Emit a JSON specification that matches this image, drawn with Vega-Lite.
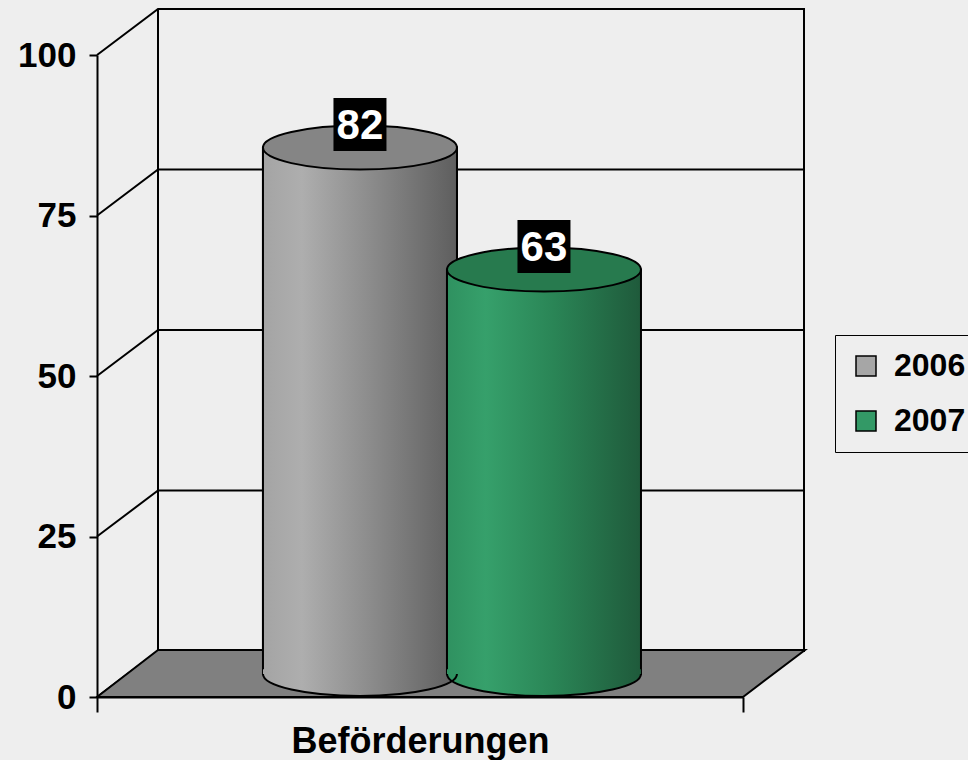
{
  "$schema": "https://vega.github.io/schema/vega-lite/v6.json",
  "width": 646,
  "height": 642,
  "autosize": {"type": "none"},
  "padding": {"left": 97, "top": 55, "right": 225, "bottom": 63},
  "background": "#EEEEEE",
  "config": {"view": {"stroke": null}, "font": "Liberation Sans"},
  "datasets": {
    "main": [
      {"cat": "Beförderungen", "year": "2006", "value": 82},
      {"cat": "Beförderungen", "year": "2007", "value": 63}
    ],
    "grid": [{"v": 0}, {"v": 25}, {"v": 50}, {"v": 75}, {"v": 100}]
  },
  "layer": [
    {
      "data": {"name": "grid"},
      "mark": {"type": "point", "shape": "M -0.9124 0 L -0.7401 -0.13 L 1.0876 -0.13", "size": 501264, "filled": false, "stroke": "black", "strokeWidth": 2, "opacity": 1},
      "encoding": {
        "y": {"field": "v", "type": "quantitative", "scale": {"domain": [0, 100], "nice": false, "zero": true},
          "axis": {"values": [0, 25, 50, 75, 100], "title": null, "grid": false, "domainColor": "black", "domainWidth": 2, "tickColor": "black", "tickWidth": 2, "tickSize": 8, "labelFontSize": 35, "labelFontWeight": "bold", "labelColor": "black", "labelPadding": 13}}
      }
    },
    {
      "data": {"name": "main"},
      "transform": [{"filter": "datum.year === '2006'"}],
      "mark": {"type": "bar", "size": 194, "yOffset": -23, "y2Offset": -23, "stroke": "black", "strokeWidth": 2,
        "fill": {"gradient": "linear", "x1": 0, "y1": 0, "x2": 1, "y2": 0, "stops": [{"offset": 0, "color": "#A4A4A4"}, {"offset": 0.2, "color": "#AEAEAE"}, {"offset": 0.55, "color": "#8C8C8C"}, {"offset": 1, "color": "#5E5E5E"}]}},
      "encoding": {
        "x": {"field": "cat", "type": "nominal", "scale": {"paddingInner": 0, "paddingOuter": 0},
          "axis": {"title": null, "bandPosition": 0.5, "tickBand": "extent", "domainColor": "black", "domainWidth": 2, "tickColor": "black", "tickWidth": 2, "tickSize": 15, "labelFontSize": 36, "labelFontWeight": "bold", "labelColor": "black", "labelPadding": 12, "labelAngle": 0, "labelLimit": 0}},
        "xOffset": {"field": "year", "type": "nominal", "scale": {"domain": ["2006", "2007"], "paddingInner": 0, "paddingOuter": 0.7554, "align": 0.615}},
        "y": {"field": "value", "type": "quantitative"}
      }
    },
    {
      "data": {"name": "main"},
      "transform": [{"filter": "datum.year === '2006'"}],
      "mark": {"type": "rule", "stroke": "black", "strokeWidth": 2, "xOffset": 61, "yOffset": -46, "y2Offset": -46},
      "encoding": {
        "x": {"field": "cat", "type": "nominal", "bandPosition": 0},
        "y": {"datum": 0, "type": "quantitative"},
        "y2": {"datum": 100}
      }
    },
    {
      "data": {"name": "main"},
      "transform": [{"filter": "datum.year === '2006'"}],
      "mark": {"type": "rule", "stroke": "black", "strokeWidth": 2, "xOffset": 61, "yOffset": -46, "y2Offset": -46},
      "encoding": {
        "x": {"field": "cat", "type": "nominal", "bandPosition": 1},
        "y": {"datum": 0, "type": "quantitative"},
        "y2": {"datum": 100}
      }
    },
    {
      "data": {"name": "grid"},
      "transform": [{"filter": "datum.v === 0"}],
      "mark": {"type": "point", "shape": "M -0.9124 0 L -0.7401 -0.1328 L 1.0876 -0.1328 L 0.9124 0 Z", "size": 501264, "filled": true, "fill": "#808080", "stroke": "black", "strokeWidth": 2, "opacity": 1},
      "encoding": {"y": {"field": "v", "type": "quantitative"}}
    },
    {
      "data": {"name": "main"},
      "transform": [{"filter": "datum.year === '2006'"}],
      "mark": {"type": "bar", "size": 194, "yOffset": -23, "y2Offset": -23, "stroke": "black", "strokeWidth": 2,
        "fill": {"gradient": "linear", "x1": 0, "y1": 0, "x2": 1, "y2": 0, "stops": [{"offset": 0, "color": "#A4A4A4"}, {"offset": 0.2, "color": "#AEAEAE"}, {"offset": 0.55, "color": "#8C8C8C"}, {"offset": 1, "color": "#5E5E5E"}]}},
      "encoding": {
        "x": {"field": "cat", "type": "nominal"},
        "xOffset": {"field": "year", "type": "nominal"},
        "y": {"field": "value", "type": "quantitative"}
      }
    },
    {
      "data": {"name": "main"},
      "transform": [{"filter": "datum.year === '2006'"}],
      "mark": {"type": "point", "shape": "M -1 -0.05 L 1 -0.05 L 1 0 A 1 0.227 0 0 1 -1 0 Z", "size": 37636, "filled": true, "strokeWidth": 0, "opacity": 1, "yOffset": -23,
        "fill": {"gradient": "linear", "x1": 0, "y1": 0, "x2": 1, "y2": 0, "stops": [{"offset": 0, "color": "#A4A4A4"}, {"offset": 0.2, "color": "#AEAEAE"}, {"offset": 0.55, "color": "#8C8C8C"}, {"offset": 1, "color": "#5E5E5E"}]}},
      "encoding": {
        "x": {"field": "cat", "type": "nominal"},
        "xOffset": {"field": "year", "type": "nominal"},
        "y": {"datum": 0, "type": "quantitative"}
      }
    },
    {
      "data": {"name": "main"},
      "transform": [{"filter": "datum.year === '2007'"}],
      "mark": {"type": "bar", "size": 194, "yOffset": -23, "y2Offset": -23, "stroke": "black", "strokeWidth": 2,
        "fill": {"gradient": "linear", "x1": 0, "y1": 0, "x2": 1, "y2": 0, "stops": [{"offset": 0, "color": "#2F9160"}, {"offset": 0.2, "color": "#36A06B"}, {"offset": 0.55, "color": "#2A8556"}, {"offset": 1, "color": "#1F5A3B"}]}},
      "encoding": {
        "x": {"field": "cat", "type": "nominal"},
        "xOffset": {"field": "year", "type": "nominal"},
        "y": {"field": "value", "type": "quantitative"}
      }
    },
    {
      "data": {"name": "main"},
      "transform": [{"filter": "datum.year === '2007'"}],
      "mark": {"type": "point", "shape": "M -1 -0.05 L 1 -0.05 L 1 0 A 1 0.227 0 0 1 -1 0 Z", "size": 37636, "filled": true, "strokeWidth": 0, "opacity": 1, "yOffset": -23,
        "fill": {"gradient": "linear", "x1": 0, "y1": 0, "x2": 1, "y2": 0, "stops": [{"offset": 0, "color": "#2F9160"}, {"offset": 0.2, "color": "#36A06B"}, {"offset": 0.55, "color": "#2A8556"}, {"offset": 1, "color": "#1F5A3B"}]}},
      "encoding": {
        "x": {"field": "cat", "type": "nominal"},
        "xOffset": {"field": "year", "type": "nominal"},
        "y": {"datum": 0, "type": "quantitative"}
      }
    },
    {
      "data": {"name": "main"},
      "mark": {"type": "point", "shape": "M -1 0 A 1 0.227 0 0 0 1 0", "size": 37636, "filled": false, "stroke": "black", "strokeWidth": 2, "opacity": 1, "yOffset": -23},
      "encoding": {
        "x": {"field": "cat", "type": "nominal"},
        "xOffset": {"field": "year", "type": "nominal"},
        "y": {"datum": 0, "type": "quantitative"}
      }
    },
    {
      "data": {"name": "main"},
      "mark": {"type": "point", "shape": "M -1 0 A 1 0.227 0 1 0 1 0 A 1 0.227 0 1 0 -1 0 Z", "size": 37636, "filled": true, "stroke": "black", "strokeWidth": 2, "opacity": 1, "yOffset": -23},
      "encoding": {
        "x": {"field": "cat", "type": "nominal"},
        "xOffset": {"field": "year", "type": "nominal"},
        "y": {"field": "value", "type": "quantitative"},
        "fill": {"condition": {"test": "datum.year === '2006'", "value": "#858585"}, "value": "#277A4E"}
      }
    },
    {
      "data": {"name": "main"},
      "mark": {"type": "point", "shape": "square", "size": 2809, "filled": true, "fill": "black", "strokeWidth": 0, "opacity": 1, "yOffset": -46},
      "encoding": {
        "x": {"field": "cat", "type": "nominal"},
        "xOffset": {"field": "year", "type": "nominal"},
        "y": {"field": "value", "type": "quantitative"}
      }
    },
    {
      "data": {"name": "main"},
      "mark": {"type": "text", "fontSize": 42, "fontWeight": "bold", "fill": "white", "baseline": "middle", "align": "center", "yOffset": -45},
      "encoding": {
        "x": {"field": "cat", "type": "nominal"},
        "xOffset": {"field": "year", "type": "nominal"},
        "y": {"field": "value", "type": "quantitative"},
        "text": {"field": "value", "type": "quantitative"}
      }
    },
    {
      "data": {"name": "main"},
      "mark": {"type": "square", "opacity": 0},
      "encoding": {
        "x": {"field": "cat", "type": "nominal"},
        "xOffset": {"field": "year", "type": "nominal"},
        "y": {"field": "value", "type": "quantitative"},
        "color": {"field": "year", "type": "nominal", "scale": {"domain": ["2006", "2007"], "range": ["#A6A6A6", "#339966"]},
          "legend": {"orient": "none", "legendX": 738, "legendY": 280, "title": null, "symbolType": "square", "symbolSize": 400, "symbolStrokeColor": "black", "symbolStrokeWidth": 1.5, "symbolOpacity": 1, "labelFontSize": 32, "labelFontWeight": "bold", "labelColor": "black", "labelOffset": 12, "rowPadding": 23, "padding": 15, "strokeColor": "black", "fillColor": "#EEEEEE"}}
      }
    }
  ]
}
